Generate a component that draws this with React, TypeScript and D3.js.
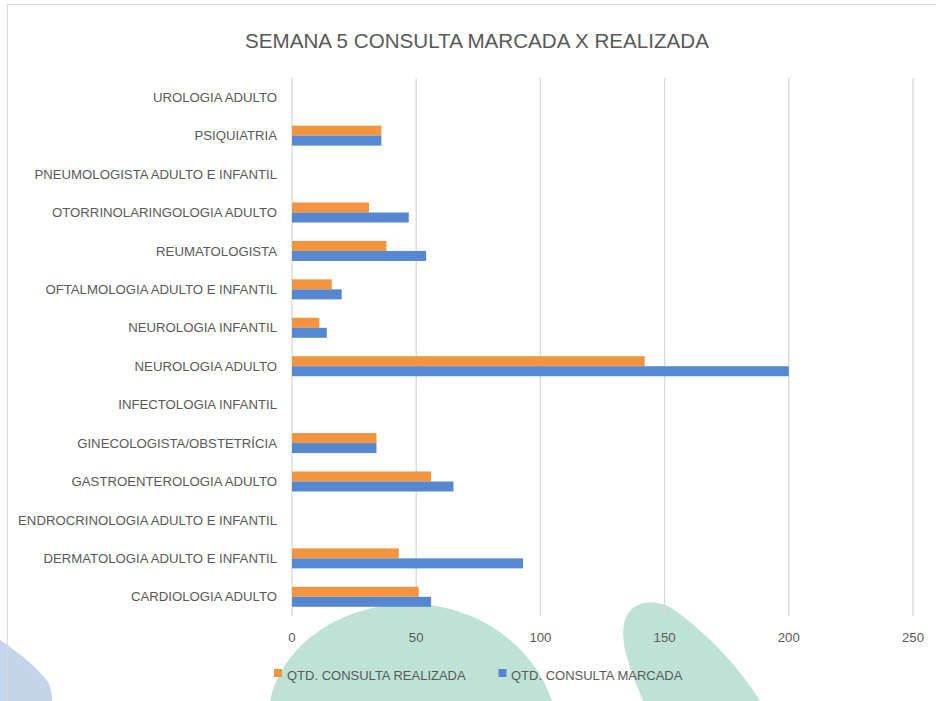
import React from "react";
import * as d3 from "d3";

// Data (Excel order: bottom category first)
const categories = [
  "CARDIOLOGIA ADULTO",
  "DERMATOLOGIA ADULTO E INFANTIL",
  "ENDROCRINOLOGIA ADULTO E INFANTIL",
  "GASTROENTEROLOGIA ADULTO",
  "GINECOLOGISTA/OBSTETRÍCIA",
  "INFECTOLOGIA INFANTIL",
  "NEUROLOGIA ADULTO",
  "NEUROLOGIA INFANTIL",
  "OFTALMOLOGIA ADULTO E INFANTIL",
  "REUMATOLOGISTA",
  "OTORRINOLARINGOLOGIA ADULTO",
  "PNEUMOLOGISTA ADULTO E INFANTIL",
  "PSIQUIATRIA",
  "UROLOGIA ADULTO",
];
const realizada = [51, 43, 0, 56, 34, 0, 142, 11, 16, 38, 31, 0, 36, 0];
const marcada = [56, 93, 0, 65, 34, 0, 200, 14, 20, 54, 47, 0, 36, 0];
const xTicks = [0, 50, 100, 150, 200, 250];
const seriesNames = ["QTD. CONSULTA REALIZADA", "QTD. CONSULTA MARCADA"];

const W = 936;
const H = 701;
const ORANGE = "#F4943F";
const BLUE = "#5588D0";
const TEXT = "#595959";
const GRID = "#D9D9D9";
const FONT = "'Liberation Sans', Arial, sans-serif";

export default function App() {
  const x = d3.scaleLinear().domain([0, 250]).range([292, 913]);
  const y = d3
    .scaleBand<string>()
    .domain([...categories].reverse())
    .range([78, 616])
    .paddingInner(0)
    .paddingOuter(0);
  const bw = y.bandwidth();
  const barH = 10;

  return (
    <svg
      width={W}
      height={H}
      style={{ position: "absolute", left: 0, top: 0, display: "block", background: "#fff" }}
    >
      {/* decorative background shapes */}
      <path d="M0,640 C18,652 38,668 48,682 C52,690 52,696 52,701 L0,701 Z" fill="#C5D5E9" />
      <path d="M270,701 C280,650 335,604 410,604 C482,604 535,650 552,701 Z" fill="#BFE2D7" />
      <path d="M643,701 C628,665 617,635 627,615 C635,601 656,598 673,609 C706,632 740,668 760,701 Z" fill="#BFE2D7" />

      {/* chart border */}
      <rect x={7.5} y={4.5} width={W + 10} height={H + 10} fill="none" stroke={GRID} strokeWidth={1} />

      {/* title */}
      <text x={477} y={48} textAnchor="middle" fontFamily={FONT} fontSize={20.6} fill={TEXT}>
        SEMANA 5 CONSULTA MARCADA X REALIZADA
      </text>

      {/* gridlines */}
      {xTicks.map((t) => (
        <line key={t} x1={x(t)} x2={x(t)} y1={78} y2={616} stroke={GRID} strokeWidth={1.3} />
      ))}

      {/* bars */}
      {categories.map((c, i) => {
        const cy = (y(c) as number) + bw / 2;
        return (
          <g key={c}>
            {realizada[i] > 0 && (
              <rect x={x(0)} y={cy - barH} width={x(realizada[i]) - x(0)} height={barH} fill={ORANGE} />
            )}
            {marcada[i] > 0 && (
              <rect x={x(0)} y={cy} width={x(marcada[i]) - x(0)} height={barH} fill={BLUE} />
            )}
          </g>
        );
      })}

      {/* category labels */}
      {categories.map((c) => (
        <text
          key={c}
          x={277}
          y={(y(c) as number) + bw / 2 + 4.6}
          textAnchor="end"
          fontFamily={FONT}
          fontSize={13.2}
          fill={TEXT}
        >
          {c}
        </text>
      ))}

      {/* x tick labels */}
      {xTicks.map((t) => (
        <text key={t} x={x(t)} y={642} textAnchor="middle" fontFamily={FONT} fontSize={13.2} fill={TEXT}>
          {t}
        </text>
      ))}

      {/* legend */}
      <rect x={274} y={669} width={8} height={8} fill={ORANGE} />
      <text x={287} y={680} fontFamily={FONT} fontSize={13} fill={TEXT}>
        {seriesNames[0]}
      </text>
      <rect x={498.5} y={669} width={8} height={8} fill={BLUE} />
      <text x={511} y={680} fontFamily={FONT} fontSize={13} fill={TEXT}>
        {seriesNames[1]}
      </text>
    </svg>
  );
}
